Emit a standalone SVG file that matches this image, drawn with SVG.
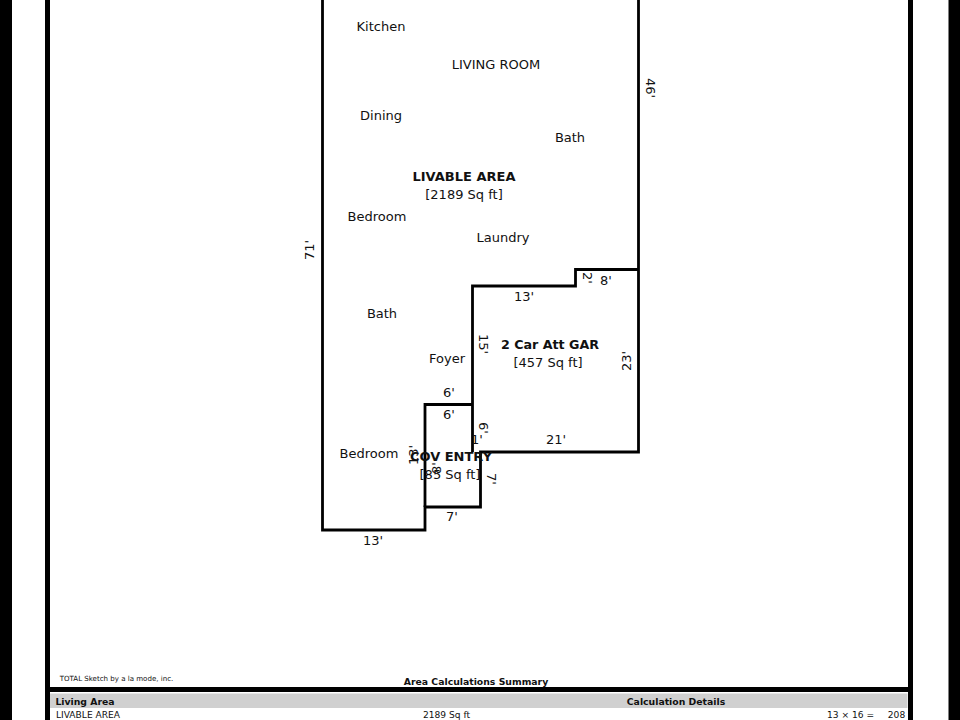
<svg xmlns="http://www.w3.org/2000/svg" width="960" height="720" viewBox="0 0 960 720">
<style>
text{font-family:"DejaVu Sans",Verdana,sans-serif;font-size:13px;fill:#111;text-anchor:middle}
.b{font-weight:bold}
.w{fill:none;stroke:#000;stroke-width:2.800;stroke-linejoin:miter}
.s{font-size:9.300px;font-weight:bold}
.r{font-size:9.100px}
</style>
<rect width="960" height="720" fill="#fff"/>
<g id="frame">
<rect x="0" y="0" width="12" height="720" fill="#000"/>
<rect x="45" y="0" width="5" height="720" fill="#000"/>
<rect x="908" y="0" width="5" height="720" fill="#000"/>
<rect x="948.500" y="0" width="11.500" height="720" fill="#000"/>
<rect x="50" y="687" width="858" height="5" fill="#000"/>
<rect x="50" y="693.500" width="857.500" height="14.500" fill="#d0d0d0"/>
</g>
<g id="walls">
<path class="w" d="M322.500 0V530H425V507H480.500V452H638.500V0"/>
<path class="w" d="M638.500 269.500H575.500V286H472.500V452"/>
<path class="w" d="M425 507V404.500H472.500"/>
</g>
<g id="rooms">
<text x="381" y="31">Kitchen</text>
<text x="496" y="69">LIVING ROOM</text>
<text x="381" y="120">Dining</text>
<text x="570" y="142">Bath</text>
<text x="464" y="181" class="b">LIVABLE AREA</text>
<text x="464" y="199">[2189 Sq ft]</text>
<text x="377" y="221">Bedroom</text>
<text x="503" y="242">Laundry</text>
<text x="382" y="318">Bath</text>
<text x="447" y="363">Foyer</text>
<text x="369" y="458">Bedroom</text>
<text x="550" y="349" class="b" style="font-size:12.700px">2 Car Att GAR</text>
<text x="548" y="367">[457 Sq ft]</text>
<text x="451" y="461" class="b">COV ENTRY</text>
<text x="450" y="479">[85 Sq ft]</text>
</g>
<g id="dimensions">
<text transform="translate(645.500 88) rotate(90)">46'</text>
<text transform="translate(314 250) rotate(-90)">71'</text>
<text x="524" y="301">13'</text>
<text transform="translate(583 278) rotate(90)">2'</text>
<text x="606" y="285">8'</text>
<text transform="translate(479 344) rotate(90)">15'</text>
<text transform="translate(631 361) rotate(-90)">23'</text>
<text x="449" y="397">6'</text>
<text x="449" y="419">6'</text>
<text transform="translate(479 428) rotate(90)">6'</text>
<text x="477" y="444">1'</text>
<text x="556" y="444">21'</text>
<text transform="translate(418 455) rotate(-90)">13'</text>
<text transform="translate(441 468) rotate(-90)">8'</text>
<text transform="translate(487 479) rotate(90)">7'</text>
<text x="452" y="521">7'</text>
<text x="373" y="545">13'</text>
</g>
<g id="footer">
<text x="116.500" y="681" style="font-size:7.050px">TOTAL Sketch by a la mode, inc.</text>
<text x="476" y="684.500" class="s">Area Calculations Summary</text>
<text x="85" y="704.500" class="s">Living Area</text>
<text x="676" y="704.500" class="s">Calculation Details</text>
<text x="88" y="718" class="r">LIVABLE AREA</text>
<text x="446.500" y="718" class="r">2189 Sq ft</text>
<text x="850.500" y="718" class="r">13 × 16 =</text>
<text x="896.500" y="718" class="r">208</text>
</g>
</svg>
